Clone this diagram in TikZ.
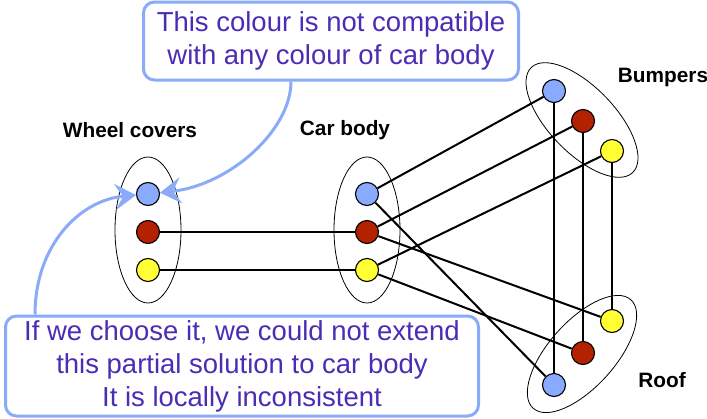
\documentclass[tikz,border=0pt]{standalone}
\usepackage{fontspec}
\setmainfont{Liberation Sans}
\usepackage{tikz}
\usetikzlibrary{arrows.meta,shapes.geometric,backgrounds}

\definecolor{lblue}{HTML}{88AAFF}
\definecolor{dred}{HTML}{B32200}
\definecolor{yel}{HTML}{FFFF33}
\definecolor{notetext}{HTML}{4B2DB5}
\definecolor{noteline}{HTML}{8AABFA}

\begin{document}
\begin{tikzpicture}[x=1pt,y=-1pt,>={Stealth[length=21pt,width=26pt,inset=8pt]},
                   val/.style={circle,draw,fill=#1,line width=1.1pt,minimum size=23pt,inner sep=0pt},
                   group/.style={ellipse,draw,line width=0.8pt,minimum width=66pt,minimum height=146pt},
                   edge/.style={line width=2pt},
                   var/.style={font=\fontsize{20.8}{25}\selectfont\bfseries},
                   note/.style={draw=noteline,line width=3pt,rounded corners=11pt,fill=white,
                                align=center,text=notetext,font=\fontsize{27.5}{33}\selectfont},
                   hint/.style={->,draw=noteline,line width=3pt}]
\useasboundingbox (0,0) rectangle (707,418);
% the four variables with their domains
\node[group] (gw) at (148,230) {};
\node[group] (gc) at (367,230) {};
\node[group,rotate=44] (gb) at (582,120) {};
\node[group,rotate=-42] (gr) at (582,354) {};
\foreach \col [count=\i] in {lblue,dred,yel}{
  \node[val=\col] (w\i) at (148,{156+38*\i}) {};
  \node[val=\col] (c\i) at (367,{156+38*\i}) {};
  \node[val=\col] (b\i) at ({525+29*\i},{61+30*\i}) {};
  \node[val=\col] (r\i) at ({525+29*\i},{417-32*\i}) {};
}
\node[var] at (130,130) {Wheel covers};
\node[var] at (345,130) {Car body};
\node[var] at (663,77) {Bumpers};
\node[var] at (662,380) {Roof};
% compatible pairs
\begin{scope}[on background layer]
\foreach \a/\b in {w2/c2,w3/c3,c1/b1,c2/b2,c3/b3,c1/r1,c2/r3,c3/r2,b1/r1,b2/r2,b3/r3}
  \draw[edge] (\a) -- (\b);
\end{scope}
% callouts
\node[note,minimum width=375pt,minimum height=78pt] (why) at (331,41)
  {This colour is not compatible\\with any colour of car body};
\node[note,minimum width=473pt,minimum height=100pt] (sol) at (242,366)
  {If we choose it, we could not extend\\this partial solution to car body\\It is locally inconsistent};
\draw[hint] ([xshift=-40pt]why.south) .. controls (291,130) and (230,185) .. (w1);
\draw[hint] ([xshift=-207pt]sol.north) .. controls (35,245) and (80,200) .. (w1);
\end{tikzpicture}
\end{document}
